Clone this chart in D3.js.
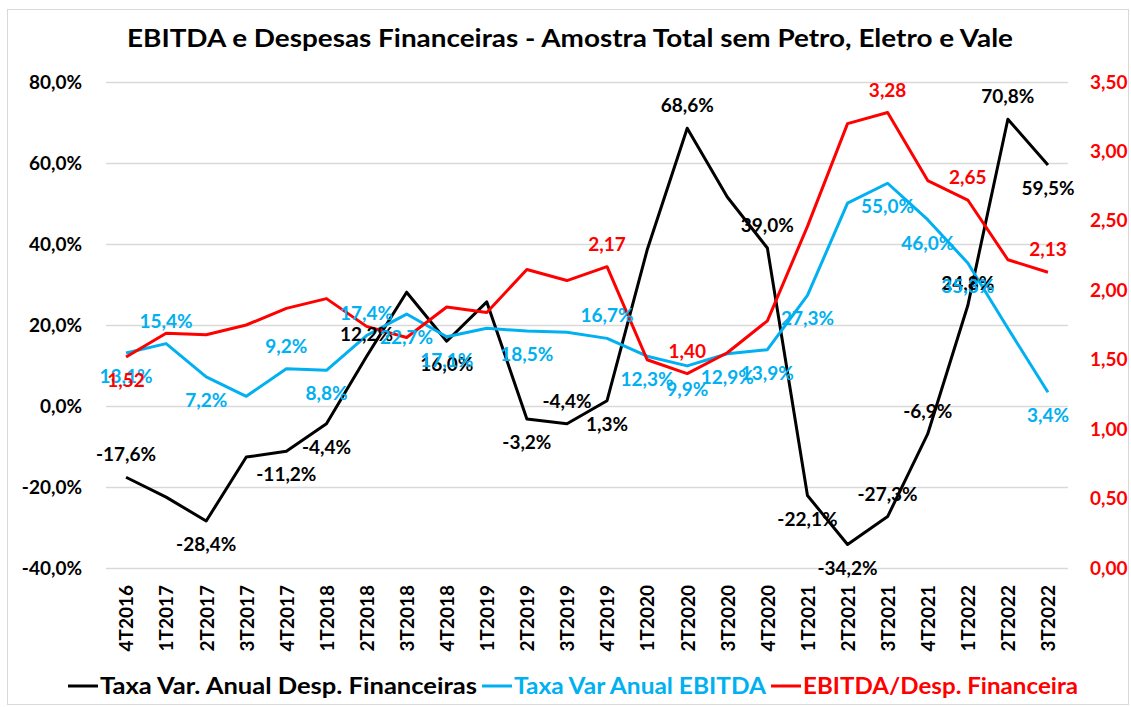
<!DOCTYPE html>
<html>
<head>
<meta charset="utf-8">
<script src="https://cdn.jsdelivr.net/npm/d3@7"></script>
<style>
  body { margin: 0; background: #fff; }
  text { font-family: Lato, "Open Sans", sans-serif; font-weight: bold; }
</style>
</head>
<body>
<div id="chart"></div>
<script>
// data
var quarters = ["4T2016","1T2017","2T2017","3T2017","4T2017","1T2018","2T2018","3T2018","4T2018",
                "1T2019","2T2019","3T2019","4T2019","1T2020","2T2020","3T2020","4T2020",
                "1T2021","2T2021","3T2021","4T2021","1T2022","2T2022","3T2022"];

var despFin = [-17.6,-22.5,-28.4,-12.6,-11.2,-4.4,12.2,28.1,16.0,25.7,-3.2,-4.4,1.3,
               38.5,68.6,51.6,39.0,-22.1,-34.2,-27.3,-6.9,24.8,70.8,59.5];
var ebitda = [13.1,15.4,7.2,2.4,9.2,8.8,17.4,22.7,17.1,19.2,18.5,18.2,16.7,
              12.3,9.9,12.9,13.9,27.3,50.1,55.0,46.0,35.3,19.2,3.4];
var cobertura = [1.52,1.69,1.68,1.75,1.87,1.94,1.74,1.66,1.88,1.84,2.15,2.07,2.17,
                 1.50,1.40,1.55,1.78,2.46,3.20,3.28,2.79,2.65,2.22,2.13];

var leftTicks = [-40,-20,0,20,40,60,80];
var rightTicks = [0,0.5,1,1.5,2,2.5,3,3.5];

// where each data label sits: t = above, b = below, "" = no label
var despFinLbl = ["t","","b","","b","b","t","","b","","b","t","b","","t","","t","b","b","t","t","t","t","b"];
var ebitdaLbl = ["b","t","b","","t","b","t","b","b","","b","","t","b","b","b","b","b","","b","b","b","","b"];
var coberturaLbl = ["b","","","","","","","","","","","","t","","t","","","","","t","","t","","t"];

var W = 1131, H = 707;
var margin = { left: 106, right: 63, top: 82, bottom: 139 };
var w = W - margin.left - margin.right;
var h = H - margin.top - margin.bottom;

var cBlack = "#000000", cBlue = "#00b0f0", cRed = "#ff0000";

var ptBR = d3.formatLocale({ decimal: ",", thousands: ".", grouping: [3], currency: ["R$", ""], minus: "-" });
var fmtPct = function (d) { return ptBR.format(".1f")(d) + "%"; };
var fmtNum = ptBR.format(".2f");

var svg = d3.select("#chart")
            .append("svg")
            .attr("width", W)
            .attr("height", H);

// outer frame
svg.append("rect")
    .attr("x", 7.5).attr("y", 9.5)
    .attr("width", W - 10).attr("height", H - 12)
    .attr("fill", "none")
    .attr("stroke", "#d9d9d9");

svg.append("text")
    .attr("x", 570)
    .attr("y", 47)
    .attr("text-anchor", "middle")
    .attr("font-size", 24)
    .attr("textLength", 886)
    .attr("lengthAdjust", "spacingAndGlyphs")
    .text("EBITDA e Despesas Financeiras - Amostra Total sem Petro, Eletro e Vale");

var g = svg.append("g")
            .attr("transform", "translate(" + margin.left + "," + margin.top + ")");

var xScale = d3.scalePoint()
            .domain(quarters)
            .range([0, w])
            .padding(0.5);

var yLeft = d3.scaleLinear().domain([-40, 80]).range([h, 0]);
var yRight = d3.scaleLinear().domain([0, 3.5]).range([h, 0]);

// gridlines + left axis
var leftAxis = g.append("g")
    .call(d3.axisLeft(yLeft).tickValues(leftTicks).tickSize(-w).tickPadding(24).tickFormat(fmtPct));
leftAxis.select(".domain").remove();
leftAxis.selectAll("line").attr("stroke", "#d9d9d9").attr("stroke-width", 1.5);
leftAxis.selectAll("text")
    .attr("font-size", 19)
    .attr("fill", cBlack);

var rightAxis = g.append("g")
    .attr("transform", "translate(" + w + ",0)")
    .call(d3.axisRight(yRight).tickValues(rightTicks).tickSize(0).tickPadding(22).tickFormat(fmtNum));
rightAxis.select(".domain").remove();
rightAxis.selectAll("text")
    .attr("font-size", 19)
    .attr("fill", cRed);

// x labels, rotated
var xAxis = g.append("g")
    .attr("transform", "translate(0," + h + ")")
    .call(d3.axisBottom(xScale).tickSize(0));
xAxis.select(".domain").remove();
xAxis.selectAll("text")
    .attr("font-size", 19)
    .attr("fill", cBlack)
    .attr("text-anchor", "end")
    .attr("transform", "rotate(-90)")
    .attr("x", -17)
    .attr("y", 0)
    .attr("dy", "0.36em");

function drawSeries(values, yScale, color) {
    var line = d3.line()
        .x(function (d, i) { return xScale(quarters[i]); })
        .y(function (d) { return yScale(d); });
    g.append("path")
        .datum(values)
        .attr("fill", "none")
        .attr("stroke", color)
        .attr("stroke-width", 3)
        .attr("stroke-linejoin", "round")
        .attr("d", line);
}

drawSeries(despFin, yLeft, cBlack);
drawSeries(ebitda, yLeft, cBlue);
drawSeries(cobertura, yRight, cRed);

// data labels
function labels(values, pos, yScale, color, fmt) {
    values.forEach(function (v, i) {
        if (!pos[i]) return;
        var y = yScale(v);
        g.append("text")
            .attr("x", xScale(quarters[i]))
            .attr("y", pos[i] === "t" ? y - 16 : y + 30)
            .attr("text-anchor", "middle")
            .attr("font-size", 19)
            .attr("fill", color)
            .text(fmt(v));
    });
}

labels(despFin, despFinLbl, yLeft, cBlack, fmtPct);
labels(ebitda, ebitdaLbl, yLeft, cBlue, fmtPct);
labels(cobertura, coberturaLbl, yRight, cRed, fmtNum);

// legend
var legendItems = [
    { name: "Taxa Var. Anual Desp. Financeiras", color: cBlack, len: 377 },
    { name: "Taxa Var Anual EBITDA", color: cBlue, len: 252 },
    { name: "EBITDA/Desp. Financeira", color: cRed, len: 275 }
];
var lx = 68, ly = 694;
legendItems.forEach(function (d) {
    svg.append("line")
        .attr("x1", lx).attr("x2", lx + 30)
        .attr("y1", ly - 8).attr("y2", ly - 8)
        .attr("stroke", d.color)
        .attr("stroke-width", 3);
    svg.append("text")
        .attr("x", lx + 32)
        .attr("y", ly)
        .attr("font-size", 22)
        .attr("fill", d.color)
        .attr("textLength", d.len)
        .attr("lengthAdjust", "spacingAndGlyphs")
        .text(d.name);
    lx += 32 + d.len + 5;
});
</script>
</body>
</html>
